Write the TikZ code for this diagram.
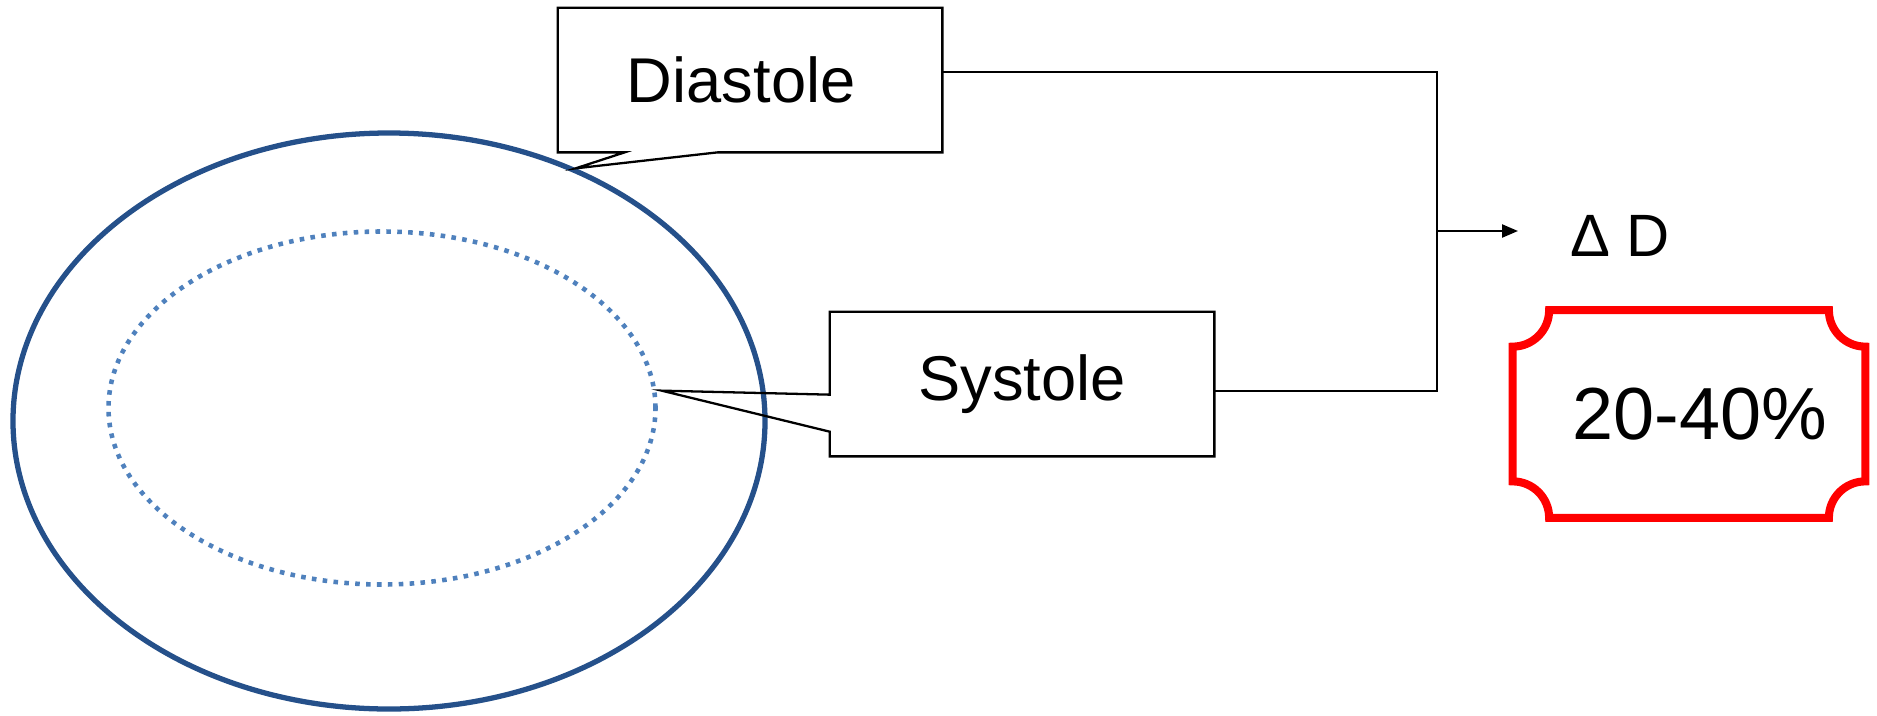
\documentclass[tikz,border=0pt]{standalone}
\usepackage{fontspec}
\setmainfont{Liberation Sans}
\usetikzlibrary{calc,arrows.meta}
\definecolor{rimblue}{HTML}{25508A}
\definecolor{lumenblue}{HTML}{4F81BD}
\definecolor{alertred}{HTML}{FF0000}

\begin{document}
\begin{tikzpicture}[x=0.2mm, y=-0.2mm,
    phase/.style={minimum width=76.8mm, minimum height=28.8mm, inner sep=0pt, font=\fontsize{36}{40}\selectfont},
    outline/.style={line width=1.3pt, line join=miter},
    rim/.style={draw=rimblue, line width=3pt},
    lumen/.style={draw=lumenblue, line width=2.6pt, dash pattern=on 2.6pt off 3.6pt}]
  \useasboundingbox (0,0) rectangle (1877,715);

  % vessel wall and lumen
  \draw[rim] (389,421) ellipse [x radius=75.2mm, y radius=57.6mm];
  \draw[lumen] (382,408) ellipse [x radius=54.7mm, y radius=35.3mm];

  % callouts
  \node[phase] (dia) at (750,80) {Diastole\hspace*{10pt}};
  \node[phase] (sys) at (1022,384) {Systole};
  \draw[outline] (dia.south west) -- ($(dia.south west)+(67,0)$) -- ($(dia.south west)+(18,16)$)
      -- ($(dia.south west)+(160,0)$) -- (dia.south east) -- (dia.north east) -- (dia.north west) -- cycle;
  \draw[outline] (sys.north west) -- (sys.north east) -- (sys.south east) -- (sys.south west)
      -- ($(sys.north west)+(0,120)$) -- ($(sys.north west)+(-168,79)$) -- ($(sys.north west)+(0,83)$) -- cycle;

  % result
  \node[font=\fontsize{34}{38}\selectfont] (dd) at (1620,236) {Δ D};
  \node[minimum width=70.4mm, minimum height=41.4mm, inner sep=0pt,
        font=\fontsize{42}{48}\selectfont] (pct) at (1689,414) {\hspace*{12pt}20-40\%};
  \draw[draw=alertred, line width=4.6pt]
      ($(pct.north west)+(7.3mm,0)$) -- ($(pct.north east)+(-7.3mm,0)$) arc[start angle=180, end angle=270, radius=7.3mm]
      -- ($(pct.south east)+(0,7.3mm)$) arc[start angle=90, end angle=180, radius=7.3mm]
      -- ($(pct.south west)+(7.3mm,0)$) arc[start angle=0, end angle=90, radius=7.3mm]
      -- ($(pct.north west)+(0,-7.3mm)$) arc[start angle=270, end angle=360, radius=7.3mm] -- cycle;

  % bracket
  \coordinate (turn) at (1437,391);
  \coordinate (jn) at (1437,231);
  \coordinate (tip) at (1518,231);
  \draw[outline] ($(dia.east)+(0,-8)$) -| (turn) -- ($(sys.east)+(0,7)$);
  \draw[outline, -{Triangle[length=3.2mm, width=2.6mm]}] (jn) -- (tip);
\end{tikzpicture}
\end{document}
